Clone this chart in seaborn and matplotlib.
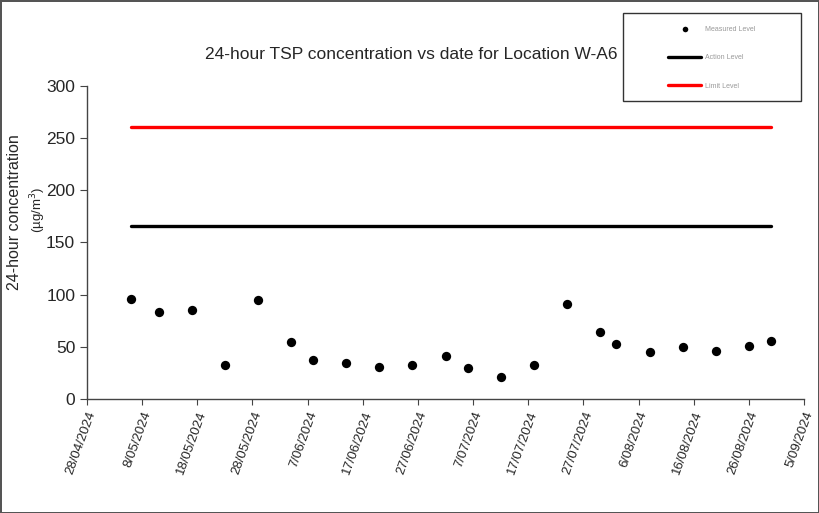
import matplotlib
matplotlib.use("Agg")
import matplotlib.pyplot as plt
import matplotlib.patches as patches
import seaborn as sns
import pandas as pd

# 24-hour TSP samples, location W-A6
sample_dates = ["2024-05-06", "2024-05-11", "2024-05-17", "2024-05-23", "2024-05-29",
                "2024-06-04", "2024-06-08", "2024-06-14", "2024-06-20", "2024-06-26",
                "2024-07-02", "2024-07-06", "2024-07-12", "2024-07-18", "2024-07-24",
                "2024-07-30", "2024-08-02", "2024-08-08", "2024-08-14", "2024-08-20",
                "2024-08-26", "2024-08-30"]
tsp_values = [96, 83, 85, 33, 95, 55, 37, 34, 31, 33, 41, 30, 21, 33, 91,
              64, 53, 45, 50, 46, 51, 56]
action_level = 166
limit_level = 260
tick_labels = ["28/04/2024", "8/05/2024", "18/05/2024", "28/05/2024", "7/06/2024",
               "17/06/2024", "27/06/2024", "7/07/2024", "17/07/2024", "27/07/2024",
               "6/08/2024", "16/08/2024", "26/08/2024", "5/09/2024"]
y_ticks = [0, 50, 100, 150, 200, 250, 300]

sns.set_style("ticks")
plt.rcParams['font.family'] = ['Liberation Sans', 'DejaVu Sans']

df = pd.DataFrame({"date": pd.to_datetime(sample_dates), "tsp": tsp_values})
span = [df["date"].min(), df["date"].max()]
action_df = pd.DataFrame({"date": span, "level": [action_level] * 2})
limit_df = pd.DataFrame({"date": span, "level": [limit_level] * 2})
tick_pos = pd.to_datetime(tick_labels, dayfirst=True)

fig = plt.figure(figsize=(8.19, 5.13), dpi=100)
fig.patch.set_edgecolor("#555555")
fig.patch.set_linewidth(2)
ax = fig.add_axes([87 / 819, 1 - 399 / 513, 717 / 819, 313.3 / 513])

sns.scatterplot(data=df, x="date", y="tsp", color="black", s=45, linewidth=0,
                ax=ax, label="Measured Level", zorder=3)
sns.lineplot(data=action_df, x="date", y="level", color="black", lw=2.4,
             ax=ax, label="Action Level")
sns.lineplot(data=limit_df, x="date", y="level", color="red", lw=2.4,
             ax=ax, label="Limit Level")

ax.set_xlim(tick_pos[0], tick_pos[-1])
ax.set_ylim(0, 300)
ax.set_yticks(y_ticks)
ax.set_xticks(tick_pos)
ax.set_xticklabels(tick_labels, rotation=70, ha="right", rotation_mode="anchor", fontsize=9.5)
ax.tick_params(axis="y", labelsize=12.5, length=5, color="#444444")
ax.tick_params(axis="x", length=4, color="#444444")
ax.set_xlabel("")
ax.set_ylabel("")
sns.despine(ax=ax)
for side in ["left", "bottom"]:
    ax.spines[side].set_color("#444444")
    ax.spines[side].set_linewidth(1)

fig.text(411 / 819, 1 - 55 / 513, "24-hour TSP concentration vs date for Location W-A6",
         ha="center", va="center", fontsize=12.5)
fig.text(15 / 819, 1 - 212 / 513, "24-hour concentration", rotation=90,
         ha="center", va="center", fontsize=11.5)
fig.text(38 / 819, 1 - 210 / 513, "(µg/m$^3$)", rotation=90,
         ha="center", va="center", fontsize=9.5)

fig.add_artist(patches.Rectangle((623 / 819, 1 - 101 / 513), 178 / 819, 88 / 513,
                                 transform=fig.transFigure, fill=False,
                                 edgecolor="#333333", lw=1))
ax.legend(loc="center", bbox_to_anchor=(712 / 819, 1 - 57.7 / 513),
          bbox_transform=fig.transFigure, frameon=False, fontsize=5,
          labelcolor="#999999", handlelength=4.75, labelspacing=3.1,
          handletextpad=0.6, markerscale=0.6)

fig.savefig("out.png", dpi=100)
